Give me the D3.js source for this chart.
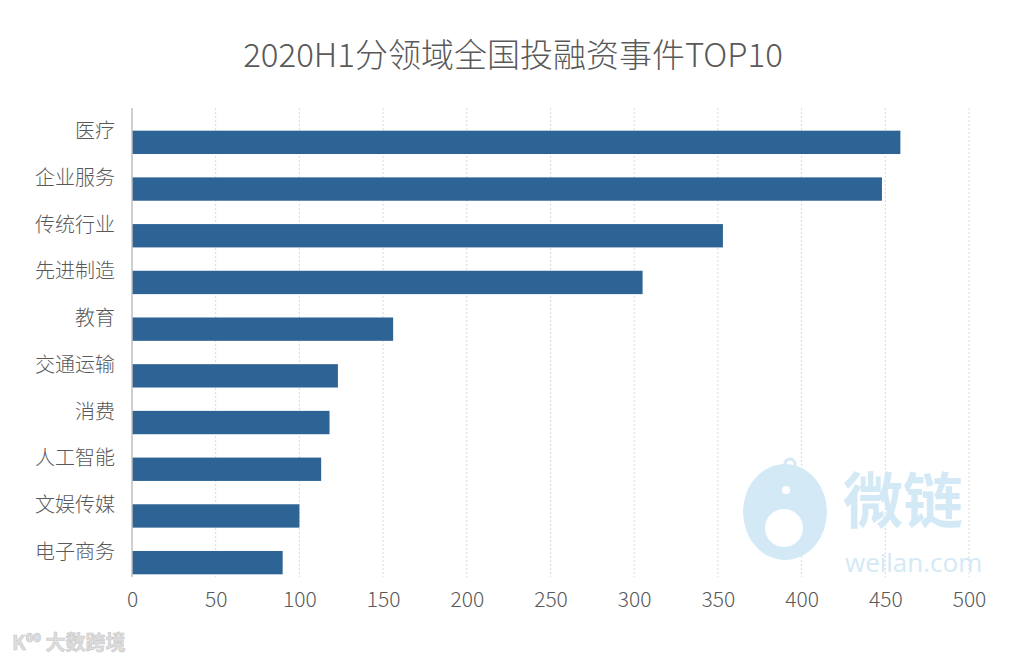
<!DOCTYPE html>
<html>
<head>
<meta charset="utf-8">
<script src="https://cdn.jsdelivr.net/npm/d3@7"></script>
<style>
  body { margin: 0; background: #fff; }
  text { font-family: "Noto Sans CJK SC", "Noto Sans", sans-serif; }
</style>
</head>
<body>
<div class="chart"></div>
<script>
// 2020H1 invest & financing events by sector, top 10
var categories = ["医疗", "企业服务", "传统行业", "先进制造", "教育", "交通运输", "消费", "人工智能", "文娱传媒", "电子商务"];
var counts = [459, 448, 353, 305, 156, 123, 118, 113, 100, 90];
var xTicks = [0, 50, 100, 150, 200, 250, 300, 350, 400, 450, 500];
var title = "2020H1分领域全国投融资事件TOP10";

var W = 1024, H = 661;
var plot = { left: 132, right: 969, top: 108, bottom: 577 };

var svg = d3.select(".chart").append("svg")
    .attr("width", W)
    .attr("height", H);

var x = d3.scaleLinear()
    .domain([0, 500])
    .range([plot.left, plot.right]);

var y = d3.scaleBand()
    .domain(categories)
    .range([119, 586])
    .paddingInner(0.5)
    .paddingOuter(0.25);

// title
svg.append("text")
    .attr("x", 513)
    .attr("y", 67)
    .attr("text-anchor", "middle")
    .style("font-size", "33px")
    .style("font-weight", 300)
    .attr("fill", "#595959")
    .text(title);

// dotted vertical gridlines
svg.append("g")
    .attr("class", "grid")
    .selectAll("line")
    .data(xTicks.slice(1))
    .enter().append("line")
    .attr("x1", function (d) { return x(d); })
    .attr("x2", function (d) { return x(d); })
    .attr("y1", plot.top)
    .attr("y2", plot.bottom)
    .attr("stroke", "#d9d9d9")
    .attr("stroke-width", 1)
    .attr("stroke-dasharray", "2,2");

// bars
svg.selectAll(".bar")
    .data(categories)
    .enter().append("rect")
    .attr("class", "bar")
    .attr("x", x(0))
    .attr("y", function (d) { return y(d); })
    .attr("width", function (d, i) { return x(counts[i]) - x(0); })
    .attr("height", y.bandwidth())
    .attr("fill", "#2e6395");

// category axis line
svg.append("line")
    .attr("x1", x(0)).attr("x2", x(0))
    .attr("y1", plot.top).attr("y2", plot.bottom)
    .attr("stroke", "#bfbfbf")
    .attr("stroke-width", 1.5);

// category labels (sit a bit above the bar centre, like the source)
svg.append("g")
    .selectAll("text")
    .data(categories)
    .enter().append("text")
    .attr("x", 115)
    .attr("y", function (d) { return y(d) + y.bandwidth() / 2 - 11; })
    .attr("dy", "0.35em")
    .attr("text-anchor", "end")
    .style("font-size", "20px")
    .style("font-weight", 300)
    .attr("fill", "#595959")
    .text(function (d) { return d; });

// value axis
var xAxis = svg.append("g")
    .attr("transform", "translate(0," + 600 + ")")
    .call(d3.axisBottom(x).tickValues(xTicks).tickSize(0).tickPadding(0));
xAxis.select(".domain").remove();
xAxis.selectAll("text")
    .attr("dy", "0.35em")
    .attr("y", 0)
    .style("font-size", "21px")
    .style("font-weight", 300)
    .style("font-family", "\"Noto Sans CJK SC\", sans-serif")
    .attr("fill", "#595959");

// watermarks
var wm = svg.append("g").attr("fill", "#d4e9f6");
wm.append("ellipse").attr("cx", 785).attr("cy", 512).attr("rx", 42).attr("ry", 48);
wm.append("circle").attr("cx", 790).attr("cy", 464).attr("r", 5)
    .attr("fill", "none").attr("stroke", "#d4e9f6").attr("stroke-width", 3);
wm.append("circle").attr("cx", 784).attr("cy", 528).attr("r", 19).attr("fill", "#fff");
wm.append("circle").attr("cx", 786).attr("cy", 490).attr("r", 4).attr("fill", "#fff");
wm.append("text")
    .attr("x", 843).attr("y", 523)
    .style("font-size", "60px")
    .style("font-weight", 700)
    .text("微链");
wm.append("text")
    .attr("x", 845).attr("y", 572)
    .style("font-size", "26px")
    .style("font-family", "\"Open Sans\", sans-serif")
    .text("weilan.com");

svg.append("text")
    .attr("x", 12).attr("y", 650)
    .style("font-size", "20px")
    .style("font-weight", 700)
    .attr("fill", "#dedede")
    .attr("stroke", "#c8c8c8")
    .attr("stroke-width", 0.6)
    .text("K⁰⁰ 大数跨境");
</script>
</body>
</html>
